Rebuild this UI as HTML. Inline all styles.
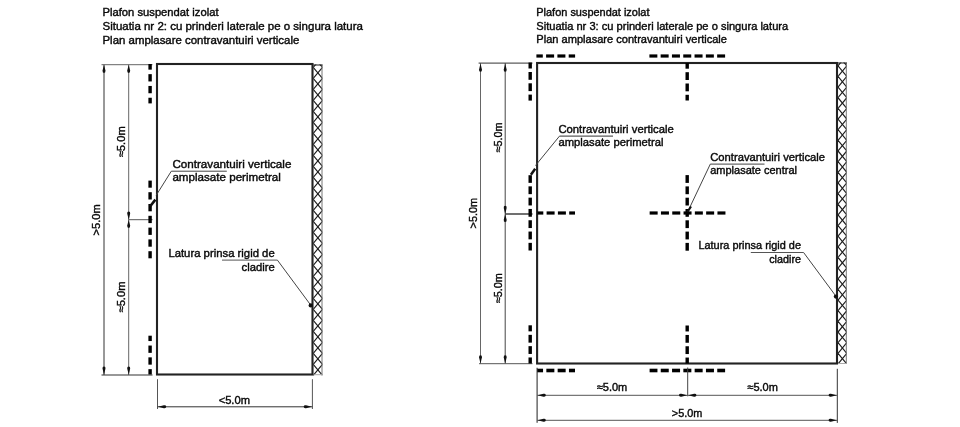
<!DOCTYPE html>
<html><head><meta charset="utf-8"><style>
html,body{margin:0;padding:0;background:#fff;width:960px;height:427px;overflow:hidden}
svg{display:block}
#w{width:960px;height:427px;will-change:transform}
text{font-family:"Liberation Sans",sans-serif}
</style></head><body><div id="w">
<svg width="960" height="427" viewBox="0 0 960 427">
<rect width="960" height="427" fill="#fff"/>
<text x="102.50" y="16.00" font-size="11" fill="#0a0a0a" stroke="#0a0a0a" stroke-width="0.4" textLength="116.00" lengthAdjust="spacingAndGlyphs">Plafon suspendat izolat</text>
<text x="102.50" y="29.80" font-size="11" fill="#0a0a0a" stroke="#0a0a0a" stroke-width="0.4" textLength="260.40" lengthAdjust="spacingAndGlyphs">Situatia nr 2: cu prinderi laterale pe o singura latura</text>
<text x="102.50" y="43.60" font-size="11" fill="#0a0a0a" stroke="#0a0a0a" stroke-width="0.4" textLength="196.80" lengthAdjust="spacingAndGlyphs">Plan amplasare contravantuiri verticale</text>
<clipPath id="hc1"><rect x="313.2" y="64.5" width="9.300000000000011" height="310.7"/></clipPath>
<g clip-path="url(#hc1)" stroke="#1a1a1a" stroke-width="1.15">
<line x1="313.2" y1="45.40" x2="322.5" y2="56.40"/>
<line x1="322.5" y1="45.40" x2="313.2" y2="56.40"/>
<line x1="313.2" y1="56.40" x2="322.5" y2="67.40"/>
<line x1="322.5" y1="56.40" x2="313.2" y2="67.40"/>
<line x1="313.2" y1="67.40" x2="322.5" y2="78.40"/>
<line x1="322.5" y1="67.40" x2="313.2" y2="78.40"/>
<line x1="313.2" y1="78.40" x2="322.5" y2="89.40"/>
<line x1="322.5" y1="78.40" x2="313.2" y2="89.40"/>
<line x1="313.2" y1="89.40" x2="322.5" y2="100.40"/>
<line x1="322.5" y1="89.40" x2="313.2" y2="100.40"/>
<line x1="313.2" y1="100.40" x2="322.5" y2="111.40"/>
<line x1="322.5" y1="100.40" x2="313.2" y2="111.40"/>
<line x1="313.2" y1="111.40" x2="322.5" y2="122.40"/>
<line x1="322.5" y1="111.40" x2="313.2" y2="122.40"/>
<line x1="313.2" y1="122.40" x2="322.5" y2="133.40"/>
<line x1="322.5" y1="122.40" x2="313.2" y2="133.40"/>
<line x1="313.2" y1="133.40" x2="322.5" y2="144.40"/>
<line x1="322.5" y1="133.40" x2="313.2" y2="144.40"/>
<line x1="313.2" y1="144.40" x2="322.5" y2="155.40"/>
<line x1="322.5" y1="144.40" x2="313.2" y2="155.40"/>
<line x1="313.2" y1="155.40" x2="322.5" y2="166.40"/>
<line x1="322.5" y1="155.40" x2="313.2" y2="166.40"/>
<line x1="313.2" y1="166.40" x2="322.5" y2="177.40"/>
<line x1="322.5" y1="166.40" x2="313.2" y2="177.40"/>
<line x1="313.2" y1="177.40" x2="322.5" y2="188.40"/>
<line x1="322.5" y1="177.40" x2="313.2" y2="188.40"/>
<line x1="313.2" y1="188.40" x2="322.5" y2="199.40"/>
<line x1="322.5" y1="188.40" x2="313.2" y2="199.40"/>
<line x1="313.2" y1="199.40" x2="322.5" y2="210.40"/>
<line x1="322.5" y1="199.40" x2="313.2" y2="210.40"/>
<line x1="313.2" y1="210.40" x2="322.5" y2="221.40"/>
<line x1="322.5" y1="210.40" x2="313.2" y2="221.40"/>
<line x1="313.2" y1="221.40" x2="322.5" y2="232.40"/>
<line x1="322.5" y1="221.40" x2="313.2" y2="232.40"/>
<line x1="313.2" y1="232.40" x2="322.5" y2="243.40"/>
<line x1="322.5" y1="232.40" x2="313.2" y2="243.40"/>
<line x1="313.2" y1="243.40" x2="322.5" y2="254.40"/>
<line x1="322.5" y1="243.40" x2="313.2" y2="254.40"/>
<line x1="313.2" y1="254.40" x2="322.5" y2="265.40"/>
<line x1="322.5" y1="254.40" x2="313.2" y2="265.40"/>
<line x1="313.2" y1="265.40" x2="322.5" y2="276.40"/>
<line x1="322.5" y1="265.40" x2="313.2" y2="276.40"/>
<line x1="313.2" y1="276.40" x2="322.5" y2="287.40"/>
<line x1="322.5" y1="276.40" x2="313.2" y2="287.40"/>
<line x1="313.2" y1="287.40" x2="322.5" y2="298.40"/>
<line x1="322.5" y1="287.40" x2="313.2" y2="298.40"/>
<line x1="313.2" y1="298.40" x2="322.5" y2="309.40"/>
<line x1="322.5" y1="298.40" x2="313.2" y2="309.40"/>
<line x1="313.2" y1="309.40" x2="322.5" y2="320.40"/>
<line x1="322.5" y1="309.40" x2="313.2" y2="320.40"/>
<line x1="313.2" y1="320.40" x2="322.5" y2="331.40"/>
<line x1="322.5" y1="320.40" x2="313.2" y2="331.40"/>
<line x1="313.2" y1="331.40" x2="322.5" y2="342.40"/>
<line x1="322.5" y1="331.40" x2="313.2" y2="342.40"/>
<line x1="313.2" y1="342.40" x2="322.5" y2="353.40"/>
<line x1="322.5" y1="342.40" x2="313.2" y2="353.40"/>
<line x1="313.2" y1="353.40" x2="322.5" y2="364.40"/>
<line x1="322.5" y1="353.40" x2="313.2" y2="364.40"/>
<line x1="313.2" y1="364.40" x2="322.5" y2="375.40"/>
<line x1="322.5" y1="364.40" x2="313.2" y2="375.40"/>
<line x1="313.2" y1="375.40" x2="322.5" y2="386.40"/>
<line x1="322.5" y1="375.40" x2="313.2" y2="386.40"/>
<line x1="313.2" y1="386.40" x2="322.5" y2="397.40"/>
<line x1="322.5" y1="386.40" x2="313.2" y2="397.40"/>
</g>
<line x1="322.0" y1="64.5" x2="322.0" y2="375.2" stroke="#777" stroke-width="1"/>
<line x1="313.2" y1="65.0" x2="322.5" y2="65.0" stroke="#1a1a1a" stroke-width="1"/>
<line x1="313.2" y1="374.7" x2="322.5" y2="374.7" stroke="#aaa" stroke-width="1"/>
<rect x="157" y="64" width="155.5" height="310.5" fill="none" stroke="#222" stroke-width="2.1"/>
<line x1="104.00" y1="64.50" x2="104.00" y2="375.00" stroke="#333" stroke-width="1"/>
<line x1="128.70" y1="64.50" x2="128.70" y2="375.00" stroke="#666" stroke-width="1"/>
<path transform="translate(104.00 64.70) rotate(0)" d="M0,0 L-1.44,5.90 Q-1.78,8.20 0,8.20 Q1.78,8.20 1.44,5.90 Z" fill="#111"/>
<path transform="translate(104.00 374.70) rotate(180)" d="M0,0 L-1.44,5.90 Q-1.78,8.20 0,8.20 Q1.78,8.20 1.44,5.90 Z" fill="#111"/>
<path transform="translate(128.70 64.70) rotate(0)" d="M0,0 L-1.44,5.90 Q-1.78,8.20 0,8.20 Q1.78,8.20 1.44,5.90 Z" fill="#111"/>
<path transform="translate(128.70 374.70) rotate(180)" d="M0,0 L-1.44,5.90 Q-1.78,8.20 0,8.20 Q1.78,8.20 1.44,5.90 Z" fill="#111"/>
<path transform="translate(128.70 219.70) rotate(180)" d="M0,0 L-1.44,5.90 Q-1.78,8.20 0,8.20 Q1.78,8.20 1.44,5.90 Z" fill="#111"/>
<path transform="translate(128.70 219.70) rotate(0)" d="M0,0 L-1.44,5.90 Q-1.78,8.20 0,8.20 Q1.78,8.20 1.44,5.90 Z" fill="#111"/>
<line x1="101.50" y1="64.70" x2="152.50" y2="64.70" stroke="#666" stroke-width="1"/>
<line x1="128.70" y1="219.70" x2="152.50" y2="219.70" stroke="#555" stroke-width="1"/>
<line x1="101.50" y1="375.00" x2="152.50" y2="375.00" stroke="#333" stroke-width="1.2"/>
<rect x="148.40" y="85.95" width="3.40" height="7.30" fill="#000"/>
<rect x="148.40" y="74.15" width="3.40" height="7.30" fill="#000"/>
<rect x="148.40" y="97.75" width="3.40" height="5.65" fill="#000"/>
<rect x="148.40" y="64.00" width="3.40" height="5.65" fill="#000"/>
<rect x="148.40" y="215.80" width="3.40" height="7.30" fill="#000"/>
<rect x="148.40" y="227.60" width="3.40" height="7.30" fill="#000"/>
<rect x="148.40" y="204.00" width="3.40" height="7.30" fill="#000"/>
<rect x="148.40" y="239.40" width="3.40" height="7.30" fill="#000"/>
<rect x="148.40" y="192.20" width="3.40" height="7.30" fill="#000"/>
<rect x="148.40" y="251.20" width="3.40" height="7.10" fill="#000"/>
<rect x="148.40" y="180.60" width="3.40" height="7.10" fill="#000"/>
<rect x="148.40" y="357.35" width="3.40" height="7.30" fill="#000"/>
<rect x="148.40" y="345.55" width="3.40" height="7.30" fill="#000"/>
<rect x="148.40" y="369.15" width="3.40" height="5.35" fill="#000"/>
<rect x="148.40" y="335.70" width="3.40" height="5.35" fill="#000"/>
<text x="100.20" y="219.90" font-size="11" fill="#0a0a0a" stroke="#0a0a0a" stroke-width="0.4" text-anchor="middle" textLength="31.00" lengthAdjust="spacingAndGlyphs" transform="rotate(-90 100.20 219.90)">&gt;5.0m</text>
<text x="125.50" y="141.80" font-size="11" fill="#0a0a0a" stroke="#0a0a0a" stroke-width="0.4" text-anchor="middle" textLength="31.00" lengthAdjust="spacingAndGlyphs" transform="rotate(-90 125.50 141.80)">≈5.0m</text>
<text x="125.30" y="297.00" font-size="11" fill="#0a0a0a" stroke="#0a0a0a" stroke-width="0.4" text-anchor="middle" textLength="31.00" lengthAdjust="spacingAndGlyphs" transform="rotate(-90 125.30 297.00)">≈5.0m</text>
<text x="172.40" y="167.60" font-size="11" fill="#0a0a0a" stroke="#0a0a0a" stroke-width="0.4" textLength="119.00" lengthAdjust="spacingAndGlyphs">Contravantuiri verticale</text>
<text x="172.40" y="180.50" font-size="11" fill="#0a0a0a" stroke="#0a0a0a" stroke-width="0.4" textLength="108.40" lengthAdjust="spacingAndGlyphs">amplasate perimetral</text>
<line x1="171.30" y1="171.20" x2="226.80" y2="171.20" stroke="#444" stroke-width="1"/>
<line x1="171.30" y1="171.20" x2="156.20" y2="195.30" stroke="#444" stroke-width="1"/>
<line x1="155.40" y1="199.60" x2="150.20" y2="206.30" stroke="#111" stroke-width="2.6"/>
<text x="168.40" y="257.10" font-size="11" fill="#0a0a0a" stroke="#0a0a0a" stroke-width="0.4" textLength="106.30" lengthAdjust="spacingAndGlyphs">Latura prinsa rigid de</text>
<text x="274.70" y="270.60" font-size="11" fill="#0a0a0a" stroke="#0a0a0a" stroke-width="0.4" text-anchor="end" textLength="33.20" lengthAdjust="spacingAndGlyphs">cladire</text>
<line x1="222.00" y1="260.10" x2="277.40" y2="260.10" stroke="#555" stroke-width="1"/>
<line x1="277.40" y1="260.10" x2="311.00" y2="305.50" stroke="#444" stroke-width="1"/>
<circle cx="310.7" cy="305.4" r="2.1" fill="#111"/>
<line x1="157.50" y1="379.20" x2="157.50" y2="409.00" stroke="#555" stroke-width="1"/>
<line x1="312.40" y1="379.20" x2="312.40" y2="409.00" stroke="#555" stroke-width="1"/>
<line x1="157.50" y1="406.80" x2="312.40" y2="406.80" stroke="#333" stroke-width="1"/>
<path transform="translate(158.00 406.80) rotate(270)" d="M0,0 L-1.44,5.90 Q-1.78,8.20 0,8.20 Q1.78,8.20 1.44,5.90 Z" fill="#111"/>
<path transform="translate(311.90 406.80) rotate(90)" d="M0,0 L-1.44,5.90 Q-1.78,8.20 0,8.20 Q1.78,8.20 1.44,5.90 Z" fill="#111"/>
<text x="234.30" y="403.60" font-size="11" fill="#0a0a0a" stroke="#0a0a0a" stroke-width="0.4" text-anchor="middle" textLength="31.30" lengthAdjust="spacingAndGlyphs">&lt;5.0m</text>
<text x="536.30" y="16.00" font-size="11" fill="#0a0a0a" stroke="#0a0a0a" stroke-width="0.4" textLength="113.20" lengthAdjust="spacingAndGlyphs">Plafon suspendat izolat</text>
<text x="536.30" y="29.50" font-size="11" fill="#0a0a0a" stroke="#0a0a0a" stroke-width="0.4" textLength="251.90" lengthAdjust="spacingAndGlyphs">Situatia nr 3: cu prinderi laterale pe o singura latura</text>
<text x="536.30" y="43.00" font-size="11" fill="#0a0a0a" stroke="#0a0a0a" stroke-width="0.4" textLength="190.70" lengthAdjust="spacingAndGlyphs">Plan amplasare contravantuiri verticale</text>
<clipPath id="hc2"><rect x="838" y="62.5" width="8.799999999999955" height="301.5"/></clipPath>
<g clip-path="url(#hc2)" stroke="#1a1a1a" stroke-width="1.15">
<line x1="838" y1="44.47" x2="846.8" y2="55.12"/>
<line x1="846.8" y1="44.47" x2="838" y2="55.12"/>
<line x1="838" y1="55.12" x2="846.8" y2="65.77"/>
<line x1="846.8" y1="55.12" x2="838" y2="65.77"/>
<line x1="838" y1="65.77" x2="846.8" y2="76.42"/>
<line x1="846.8" y1="65.77" x2="838" y2="76.42"/>
<line x1="838" y1="76.42" x2="846.8" y2="87.08"/>
<line x1="846.8" y1="76.42" x2="838" y2="87.08"/>
<line x1="838" y1="87.08" x2="846.8" y2="97.73"/>
<line x1="846.8" y1="87.08" x2="838" y2="97.73"/>
<line x1="838" y1="97.73" x2="846.8" y2="108.38"/>
<line x1="846.8" y1="97.73" x2="838" y2="108.38"/>
<line x1="838" y1="108.38" x2="846.8" y2="119.03"/>
<line x1="846.8" y1="108.38" x2="838" y2="119.03"/>
<line x1="838" y1="119.03" x2="846.8" y2="129.68"/>
<line x1="846.8" y1="119.03" x2="838" y2="129.68"/>
<line x1="838" y1="129.68" x2="846.8" y2="140.33"/>
<line x1="846.8" y1="129.68" x2="838" y2="140.33"/>
<line x1="838" y1="140.33" x2="846.8" y2="150.98"/>
<line x1="846.8" y1="140.33" x2="838" y2="150.98"/>
<line x1="838" y1="150.98" x2="846.8" y2="161.63"/>
<line x1="846.8" y1="150.98" x2="838" y2="161.63"/>
<line x1="838" y1="161.63" x2="846.8" y2="172.28"/>
<line x1="846.8" y1="161.63" x2="838" y2="172.28"/>
<line x1="838" y1="172.28" x2="846.8" y2="182.93"/>
<line x1="846.8" y1="172.28" x2="838" y2="182.93"/>
<line x1="838" y1="182.93" x2="846.8" y2="193.58"/>
<line x1="846.8" y1="182.93" x2="838" y2="193.58"/>
<line x1="838" y1="193.58" x2="846.8" y2="204.23"/>
<line x1="846.8" y1="193.58" x2="838" y2="204.23"/>
<line x1="838" y1="204.23" x2="846.8" y2="214.88"/>
<line x1="846.8" y1="204.23" x2="838" y2="214.88"/>
<line x1="838" y1="214.88" x2="846.8" y2="225.53"/>
<line x1="846.8" y1="214.88" x2="838" y2="225.53"/>
<line x1="838" y1="225.53" x2="846.8" y2="236.18"/>
<line x1="846.8" y1="225.53" x2="838" y2="236.18"/>
<line x1="838" y1="236.18" x2="846.8" y2="246.83"/>
<line x1="846.8" y1="236.18" x2="838" y2="246.83"/>
<line x1="838" y1="246.83" x2="846.8" y2="257.48"/>
<line x1="846.8" y1="246.83" x2="838" y2="257.48"/>
<line x1="838" y1="257.48" x2="846.8" y2="268.13"/>
<line x1="846.8" y1="257.48" x2="838" y2="268.13"/>
<line x1="838" y1="268.13" x2="846.8" y2="278.78"/>
<line x1="846.8" y1="268.13" x2="838" y2="278.78"/>
<line x1="838" y1="278.78" x2="846.8" y2="289.43"/>
<line x1="846.8" y1="278.78" x2="838" y2="289.43"/>
<line x1="838" y1="289.43" x2="846.8" y2="300.07"/>
<line x1="846.8" y1="289.43" x2="838" y2="300.07"/>
<line x1="838" y1="300.07" x2="846.8" y2="310.72"/>
<line x1="846.8" y1="300.07" x2="838" y2="310.72"/>
<line x1="838" y1="310.72" x2="846.8" y2="321.37"/>
<line x1="846.8" y1="310.72" x2="838" y2="321.37"/>
<line x1="838" y1="321.37" x2="846.8" y2="332.02"/>
<line x1="846.8" y1="321.37" x2="838" y2="332.02"/>
<line x1="838" y1="332.02" x2="846.8" y2="342.67"/>
<line x1="846.8" y1="332.02" x2="838" y2="342.67"/>
<line x1="838" y1="342.67" x2="846.8" y2="353.32"/>
<line x1="846.8" y1="342.67" x2="838" y2="353.32"/>
<line x1="838" y1="353.32" x2="846.8" y2="363.97"/>
<line x1="846.8" y1="353.32" x2="838" y2="363.97"/>
<line x1="838" y1="363.97" x2="846.8" y2="374.62"/>
<line x1="846.8" y1="363.97" x2="838" y2="374.62"/>
<line x1="838" y1="374.62" x2="846.8" y2="385.27"/>
<line x1="846.8" y1="374.62" x2="838" y2="385.27"/>
<line x1="838" y1="385.27" x2="846.8" y2="395.92"/>
<line x1="846.8" y1="385.27" x2="838" y2="395.92"/>
</g>
<line x1="846.3" y1="62.5" x2="846.3" y2="364" stroke="#777" stroke-width="1"/>
<line x1="838" y1="63.0" x2="846.8" y2="63.0" stroke="#1a1a1a" stroke-width="1"/>
<line x1="838" y1="363.5" x2="846.8" y2="363.5" stroke="#aaa" stroke-width="1"/>
<rect x="537.1" y="63" width="299.9" height="300.5" fill="none" stroke="#222" stroke-width="2.1"/>
<line x1="480.50" y1="63.20" x2="480.50" y2="363.70" stroke="#666" stroke-width="1"/>
<line x1="505.20" y1="63.20" x2="505.20" y2="363.70" stroke="#444" stroke-width="1"/>
<path transform="translate(480.50 63.60) rotate(0)" d="M0,0 L-1.44,5.90 Q-1.78,8.20 0,8.20 Q1.78,8.20 1.44,5.90 Z" fill="#111"/>
<path transform="translate(480.50 363.40) rotate(180)" d="M0,0 L-1.44,5.90 Q-1.78,8.20 0,8.20 Q1.78,8.20 1.44,5.90 Z" fill="#111"/>
<path transform="translate(505.20 63.60) rotate(0)" d="M0,0 L-1.44,5.90 Q-1.78,8.20 0,8.20 Q1.78,8.20 1.44,5.90 Z" fill="#111"/>
<path transform="translate(505.20 363.40) rotate(180)" d="M0,0 L-1.44,5.90 Q-1.78,8.20 0,8.20 Q1.78,8.20 1.44,5.90 Z" fill="#111"/>
<path transform="translate(505.20 213.90) rotate(180)" d="M0,0 L-1.44,5.90 Q-1.78,8.20 0,8.20 Q1.78,8.20 1.44,5.90 Z" fill="#111"/>
<path transform="translate(505.20 213.90) rotate(0)" d="M0,0 L-1.44,5.90 Q-1.78,8.20 0,8.20 Q1.78,8.20 1.44,5.90 Z" fill="#111"/>
<line x1="478.60" y1="63.10" x2="532.50" y2="63.10" stroke="#333" stroke-width="1"/>
<line x1="505.20" y1="214.00" x2="532.50" y2="214.00" stroke="#333" stroke-width="1.4"/>
<line x1="479.00" y1="363.70" x2="532.50" y2="363.70" stroke="#555" stroke-width="1"/>
<rect x="528.50" y="83.30" width="3.40" height="7.80" fill="#000"/>
<rect x="528.50" y="72.00" width="3.40" height="7.80" fill="#000"/>
<rect x="528.50" y="94.60" width="3.40" height="6.00" fill="#000"/>
<rect x="528.50" y="62.50" width="3.40" height="6.00" fill="#000"/>
<rect x="528.50" y="208.95" width="3.40" height="7.80" fill="#000"/>
<rect x="528.50" y="220.25" width="3.40" height="7.80" fill="#000"/>
<rect x="528.50" y="197.65" width="3.40" height="7.80" fill="#000"/>
<rect x="528.50" y="231.55" width="3.40" height="7.80" fill="#000"/>
<rect x="528.50" y="186.35" width="3.40" height="7.80" fill="#000"/>
<rect x="528.50" y="242.85" width="3.40" height="7.65" fill="#000"/>
<rect x="528.50" y="175.20" width="3.40" height="7.65" fill="#000"/>
<rect x="528.50" y="346.15" width="3.40" height="7.80" fill="#000"/>
<rect x="528.50" y="334.85" width="3.40" height="7.80" fill="#000"/>
<rect x="528.50" y="357.45" width="3.40" height="6.05" fill="#000"/>
<rect x="528.50" y="325.30" width="3.40" height="6.05" fill="#000"/>
<rect x="685.50" y="83.50" width="3.40" height="7.80" fill="#000"/>
<rect x="685.50" y="72.20" width="3.40" height="7.80" fill="#000"/>
<rect x="685.50" y="94.80" width="3.40" height="5.70" fill="#000"/>
<rect x="685.50" y="63.00" width="3.40" height="5.70" fill="#000"/>
<rect x="685.50" y="209.00" width="3.40" height="7.80" fill="#000"/>
<rect x="685.50" y="220.30" width="3.40" height="7.80" fill="#000"/>
<rect x="685.50" y="197.70" width="3.40" height="7.80" fill="#000"/>
<rect x="685.50" y="231.60" width="3.40" height="7.80" fill="#000"/>
<rect x="685.50" y="186.40" width="3.40" height="7.80" fill="#000"/>
<rect x="685.50" y="242.90" width="3.40" height="7.80" fill="#000"/>
<rect x="685.50" y="175.10" width="3.40" height="7.80" fill="#000"/>
<rect x="685.50" y="346.25" width="3.40" height="7.80" fill="#000"/>
<rect x="685.50" y="334.95" width="3.40" height="7.80" fill="#000"/>
<rect x="685.50" y="357.55" width="3.40" height="5.95" fill="#000"/>
<rect x="685.50" y="325.50" width="3.40" height="5.95" fill="#000"/>
<rect x="557.40" y="54.40" width="8.00" height="3.20" fill="#000"/>
<rect x="546.10" y="54.40" width="8.00" height="3.20" fill="#000"/>
<rect x="568.70" y="54.40" width="6.40" height="3.20" fill="#000"/>
<rect x="536.40" y="54.40" width="6.40" height="3.20" fill="#000"/>
<rect x="683.25" y="54.40" width="8.00" height="3.20" fill="#000"/>
<rect x="694.55" y="54.40" width="8.00" height="3.20" fill="#000"/>
<rect x="671.95" y="54.40" width="8.00" height="3.20" fill="#000"/>
<rect x="705.85" y="54.40" width="8.00" height="3.20" fill="#000"/>
<rect x="660.65" y="54.40" width="8.00" height="3.20" fill="#000"/>
<rect x="717.15" y="54.40" width="7.95" height="3.20" fill="#000"/>
<rect x="649.40" y="54.40" width="7.95" height="3.20" fill="#000"/>
<rect x="557.90" y="211.40" width="8.00" height="3.20" fill="#000"/>
<rect x="546.60" y="211.40" width="8.00" height="3.20" fill="#000"/>
<rect x="569.20" y="211.40" width="5.80" height="3.20" fill="#000"/>
<rect x="537.50" y="211.40" width="5.80" height="3.20" fill="#000"/>
<rect x="683.55" y="211.40" width="8.00" height="3.20" fill="#000"/>
<rect x="694.85" y="211.40" width="8.00" height="3.20" fill="#000"/>
<rect x="672.25" y="211.40" width="8.00" height="3.20" fill="#000"/>
<rect x="706.15" y="211.40" width="8.00" height="3.20" fill="#000"/>
<rect x="660.95" y="211.40" width="8.00" height="3.20" fill="#000"/>
<rect x="717.45" y="211.40" width="8.00" height="3.20" fill="#000"/>
<rect x="649.65" y="211.40" width="8.00" height="3.20" fill="#000"/>
<rect x="557.65" y="368.70" width="8.00" height="3.60" fill="#000"/>
<rect x="546.35" y="368.70" width="8.00" height="3.60" fill="#000"/>
<rect x="568.95" y="368.70" width="6.05" height="3.60" fill="#000"/>
<rect x="537.00" y="368.70" width="6.05" height="3.60" fill="#000"/>
<rect x="683.35" y="368.70" width="8.00" height="3.60" fill="#000"/>
<rect x="694.65" y="368.70" width="8.00" height="3.60" fill="#000"/>
<rect x="672.05" y="368.70" width="8.00" height="3.60" fill="#000"/>
<rect x="705.95" y="368.70" width="8.00" height="3.60" fill="#000"/>
<rect x="660.75" y="368.70" width="8.00" height="3.60" fill="#000"/>
<rect x="717.25" y="368.70" width="7.85" height="3.60" fill="#000"/>
<rect x="649.60" y="368.70" width="7.85" height="3.60" fill="#000"/>
<text x="477.20" y="213.20" font-size="11" fill="#0a0a0a" stroke="#0a0a0a" stroke-width="0.4" text-anchor="middle" textLength="30.50" lengthAdjust="spacingAndGlyphs" transform="rotate(-90 477.20 213.20)">&gt;5.0m</text>
<text x="501.60" y="137.40" font-size="11" fill="#0a0a0a" stroke="#0a0a0a" stroke-width="0.4" text-anchor="middle" textLength="30.00" lengthAdjust="spacingAndGlyphs" transform="rotate(-90 501.60 137.40)">≈5.0m</text>
<text x="501.80" y="288.20" font-size="11" fill="#0a0a0a" stroke="#0a0a0a" stroke-width="0.4" text-anchor="middle" textLength="30.00" lengthAdjust="spacingAndGlyphs" transform="rotate(-90 501.80 288.20)">≈5.0m</text>
<text x="558.40" y="133.20" font-size="11" fill="#0a0a0a" stroke="#0a0a0a" stroke-width="0.4" textLength="115.40" lengthAdjust="spacingAndGlyphs">Contravantuiri verticale</text>
<text x="558.40" y="145.60" font-size="11" fill="#0a0a0a" stroke="#0a0a0a" stroke-width="0.4" textLength="105.00" lengthAdjust="spacingAndGlyphs">amplasate perimetral</text>
<line x1="559.50" y1="136.10" x2="613.00" y2="136.10" stroke="#333" stroke-width="1"/>
<line x1="559.50" y1="136.10" x2="535.50" y2="165.50" stroke="#444" stroke-width="1"/>
<line x1="535.20" y1="168.80" x2="530.90" y2="174.80" stroke="#111" stroke-width="2.5"/>
<text x="710.20" y="161.10" font-size="11" fill="#0a0a0a" stroke="#0a0a0a" stroke-width="0.4" textLength="114.80" lengthAdjust="spacingAndGlyphs">Contravantuiri verticale</text>
<text x="710.20" y="173.70" font-size="11" fill="#0a0a0a" stroke="#0a0a0a" stroke-width="0.4" textLength="86.80" lengthAdjust="spacingAndGlyphs">amplasate central</text>
<line x1="710.30" y1="164.10" x2="764.50" y2="164.10" stroke="#444" stroke-width="1"/>
<line x1="710.30" y1="164.10" x2="689.50" y2="208.00" stroke="#444" stroke-width="1"/>
<line x1="691.00" y1="206.50" x2="687.40" y2="212.00" stroke="#111" stroke-width="2.2"/>
<text x="698.40" y="249.30" font-size="11" fill="#0a0a0a" stroke="#0a0a0a" stroke-width="0.4" textLength="102.60" lengthAdjust="spacingAndGlyphs">Latura prinsa rigid de</text>
<text x="801.00" y="262.80" font-size="11" fill="#0a0a0a" stroke="#0a0a0a" stroke-width="0.4" text-anchor="end" textLength="31.80" lengthAdjust="spacingAndGlyphs">cladire</text>
<line x1="750.80" y1="252.50" x2="803.60" y2="252.50" stroke="#555" stroke-width="1"/>
<line x1="803.60" y1="252.50" x2="836.40" y2="296.80" stroke="#444" stroke-width="1"/>
<circle cx="835.9" cy="296.6" r="2.1" fill="#111"/>
<line x1="537.10" y1="367.80" x2="537.10" y2="422.70" stroke="#333" stroke-width="1.1"/>
<line x1="687.70" y1="367.50" x2="687.70" y2="396.30" stroke="#444" stroke-width="1"/>
<line x1="837.30" y1="368.80" x2="837.30" y2="422.90" stroke="#333" stroke-width="1"/>
<line x1="537.10" y1="395.30" x2="837.30" y2="395.30" stroke="#555" stroke-width="1"/>
<line x1="537.10" y1="420.30" x2="837.30" y2="420.30" stroke="#555" stroke-width="1"/>
<path transform="translate(537.60 395.30) rotate(270)" d="M0,0 L-1.44,5.90 Q-1.78,8.20 0,8.20 Q1.78,8.20 1.44,5.90 Z" fill="#111"/>
<path transform="translate(687.20 395.30) rotate(90)" d="M0,0 L-1.44,5.90 Q-1.78,8.20 0,8.20 Q1.78,8.20 1.44,5.90 Z" fill="#111"/>
<path transform="translate(688.20 395.30) rotate(270)" d="M0,0 L-1.44,5.90 Q-1.78,8.20 0,8.20 Q1.78,8.20 1.44,5.90 Z" fill="#111"/>
<path transform="translate(836.80 395.30) rotate(90)" d="M0,0 L-1.44,5.90 Q-1.78,8.20 0,8.20 Q1.78,8.20 1.44,5.90 Z" fill="#111"/>
<path transform="translate(537.60 420.30) rotate(270)" d="M0,0 L-1.44,5.90 Q-1.78,8.20 0,8.20 Q1.78,8.20 1.44,5.90 Z" fill="#111"/>
<path transform="translate(836.80 420.30) rotate(90)" d="M0,0 L-1.44,5.90 Q-1.78,8.20 0,8.20 Q1.78,8.20 1.44,5.90 Z" fill="#111"/>
<text x="612.00" y="391.40" font-size="11" fill="#0a0a0a" stroke="#0a0a0a" stroke-width="0.4" text-anchor="middle" textLength="30.50" lengthAdjust="spacingAndGlyphs">≈5.0m</text>
<text x="762.60" y="391.40" font-size="11" fill="#0a0a0a" stroke="#0a0a0a" stroke-width="0.4" text-anchor="middle" textLength="30.50" lengthAdjust="spacingAndGlyphs">≈5.0m</text>
<text x="687.10" y="417.10" font-size="11" fill="#0a0a0a" stroke="#0a0a0a" stroke-width="0.4" text-anchor="middle" textLength="30.50" lengthAdjust="spacingAndGlyphs">&gt;5.0m</text>
</svg></div></body></html>
